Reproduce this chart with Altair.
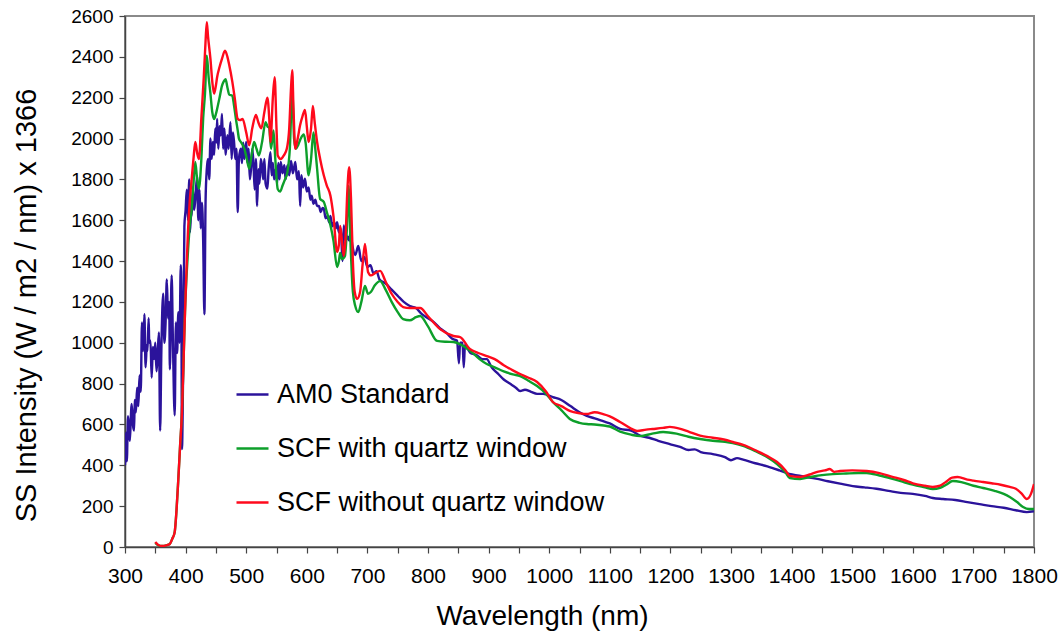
import altair as alt
import pandas as pd

# ---------------- data ----------------
am0_nm = [300,302,303,305,307,308,310,311,313,315,316,318,320,322,324,326,328,330,332,334,336,337,339,340,342,344,346,348,350,352,354,356,358,360,363,365,367,369,371,373,374,377,379,382,384,386,388,390,392,393,394,396,398,400,402,404,406,407,409,410,412,414,416,419,421,423,425,427,429,431,433,435,437,439,441,443,445,447,449,451,452,454,456,458,460,462,464,466,469,471,474,476,478,480,482,484,486,488,491,493,495,497,500,502,504,506,508,510,512,514,516,518,520,522,524,526,528,530,532,535,537,540,542,544,546,549,551,553,555,557,560,563,565,568,571,574,577,581,584,587,589,591,594,597,600,603,606,608,611,614,617,620,623,626,628,631,634,637,639,642,645,648,650,653,656,659,661,664,667,670,672,675,680,685,690,695,700,705,710,715,720,730,740,750,760,770,780,790,800,810,820,830,840,848,851,853,857,859,861,870,880,890,897,905,915,925,935,945,952,960,970,980,990,1006,1020,1035,1050,1062,1075,1090,1100,1117,1135,1150,1165,1180,1199,1216,1230,1240,1250,1270,1290,1300,1310,1320,1340,1360,1380,1392,1420,1440,1460,1480,1501,1520,1540,1560,1580,1600,1620,1633,1650,1670,1690,1710,1730,1750,1770,1788,1800]
am0_val = [400,560,420,640,560,520,660,700,600,570,720,660,780,690,840,760,1100,960,1140,880,990,960,1120,1000,1010,830,980,920,1000,860,950,1050,570,960,1240,1000,1100,1310,1120,1200,870,1330,1020,645,1100,950,1150,1000,1380,1250,480,900,1570,1650,1750,1600,1800,1540,1620,1620,1760,1650,1700,1817,1600,1750,1560,1686,1500,1140,1700,1850,1900,1800,2000,1900,1983,1920,2050,1980,2096,1950,2060,2016,2120,1950,2050,1920,2016,1950,2080,1900,2030,1983,1900,1950,1640,1900,1950,1880,1980,1900,1983,1880,1950,1800,1852,1950,1880,1750,1900,1670,1850,1780,1900,1868,1800,1900,1780,1755,1850,1933,1820,1880,1800,1852,1780,1880,1800,1885,1830,1870,1800,1868,1820,1890,1830,1885,1800,1840,1670,1820,1760,1803,1740,1760,1700,1720,1680,1700,1670,1670,1640,1660,1657,1610,1620,1590,1621,1570,1590,1560,1590,1540,1560,1400,1575,1500,1520,1500,1540,1480,1430,1474,1400,1420,1370,1380,1340,1350,1310,1290,1260,1230,1200,1180,1170,1140,1120,1100,1070,1050,1020,1010,900,1000,1000,880,990,950,940,920,920,880,850,820,800,780,764,770,760,750,750,734,720,690,660,642,630,615,605,578,570,545,535,520,504,490,475,478,465,455,440,425,435,428,410,395,375,362,345,335,322,310,298,292,285,275,265,260,250,240,235,230,220,210,200,192,180,171,175]

quartz_nm = [350,355,361,368,374,378,382,385,388,391,394,397,399,402,404,407,410,413,416,419,422,426,429,432,435,438,441,444,447,450,452,456,460,463,466,469,472,477,480,483,486,488,492,497,501,505,509,513,517,521,526,532,535,538,541,545,548,552,556,560,564,568,572,576,579,582,586,590,595,598,603,607,611,614,617,622,628,633,639,644,650,653,655,658,663,666,669,672,676,680,685,690,696,701,706,712,721,730,740,750,759,770,780,787,800,815,830,842,855,870,885,897,910,925,940,952,965,980,995,1006,1020,1034,1050,1062,1075,1090,1100,1117,1135,1150,1170,1188,1210,1230,1249,1270,1290,1303,1320,1343,1360,1376,1390,1397,1414,1430,1450,1468,1490,1510,1524,1545,1565,1585,1600,1620,1633,1645,1655,1666,1680,1700,1716,1735,1750,1760,1772,1782,1792,1800]
quartz_val = [20,8,5,8,15,40,73,180,333,500,660,950,1150,1350,1450,1580,1655,1780,1885,1800,1755,1900,2100,2220,2405,2300,2220,2130,2096,2120,2145,2200,2258,2280,2290,2250,2215,2210,2160,2096,2040,2000,1980,1950,1900,1852,1920,1983,1950,1917,1980,2080,2060,2050,1950,2040,1900,1753,1740,1770,1800,1836,1950,2240,2000,1950,1970,2000,2020,1980,1820,1900,2030,1950,1852,1704,1690,1640,1575,1500,1371,1400,1440,1410,1425,1550,1768,1500,1250,1180,1150,1200,1278,1240,1250,1280,1302,1260,1200,1150,1116,1110,1125,1131,1080,1009,1005,1004,990,960,920,896,880,860,845,837,815,788,750,710,670,627,608,602,600,595,590,565,550,543,555,563,555,540,529,520,515,509,495,465,440,406,365,338,333,342,352,357,360,362,362,350,335,318,305,292,284,290,305,323,318,300,289,275,260,245,220,196,186,186]

noquartz_nm = [350,355,361,368,374,378,382,385,388,391,394,397,399,402,404,407,410,413,416,419,422,426,430,433,435,437,441,444,447,450,452,456,460,465,469,472,477,481,486,490,494,500,505,510,516,520,525,530,535,538,540,544,547,550,552,557,562,567,571,574,576,578,581,585,589,593,597,600,603,607,610,613,617,622,628,633,639,644,650,653,655,658,661,664,667,670,673,676,679,683,688,692,696,701,706,712,721,730,740,750,759,770,787,800,820,842,853,869,883,897,910,925,940,952,965,980,995,1006,1020,1035,1050,1062,1075,1089,1100,1117,1135,1145,1160,1171,1188,1199,1215,1230,1249,1270,1290,1303,1320,1343,1360,1376,1390,1397,1414,1430,1441,1455,1463,1470,1480,1500,1524,1545,1565,1585,1600,1620,1633,1645,1655,1665,1674,1690,1700,1716,1730,1745,1760,1770,1780,1788,1795,1800]
noquartz_val = [25,10,5,8,15,40,73,180,333,500,660,950,1150,1400,1550,1700,1800,1900,1983,1930,1900,2100,2300,2480,2570,2500,2390,2280,2220,2260,2300,2350,2390,2430,2400,2360,2280,2200,2096,2090,2096,2030,1967,2050,2115,2080,2050,2130,2200,2100,1983,2200,2300,2050,1917,1900,1917,1950,2050,2250,2335,2150,1950,2000,2066,2110,2140,2060,1983,2050,2160,2080,1983,1900,1820,1770,1720,1620,1445,1480,1572,1500,1425,1520,1750,1860,1700,1400,1250,1215,1250,1380,1484,1347,1330,1340,1352,1300,1240,1200,1175,1170,1170,1130,1067,1033,1028,970,950,935,920,890,865,847,830,808,760,710,690,665,655,651,660,651,640,612,580,568,575,578,583,588,580,565,545,535,525,514,500,470,445,416,375,348,343,355,367,375,382,368,372,375,372,362,345,328,312,300,294,300,320,340,343,330,325,318,312,305,294,285,260,235,260,308]

series_names = ["AM0 Standard", "SCF with quartz window", "SCF without quartz window"]
series_colors = ["#2b139b", "#0d9f2a", "#ff0a1c"]

x_ticks = list(range(300, 1801, 50))
y_ticks = list(range(0, 2601, 200))

frames = []
for i, (nm, val) in enumerate([(am0_nm, am0_val), (quartz_nm, quartz_val), (noquartz_nm, noquartz_val)]):
    frames.append(pd.DataFrame({"nm": nm, "val": val, "series": series_names[i], "order": i}))
df = pd.concat(frames, ignore_index=True)

FONT = "Liberation Sans"

chart = alt.Chart(df).mark_line(strokeWidth=2.4, clip=True, interpolate="monotone").encode(
    x=alt.X("nm:Q",
            scale=alt.Scale(domain=[300, 1800], nice=False, zero=False),
            axis=alt.Axis(title="Wavelength (nm)", values=x_ticks, format="d",
                          labelExpr="datum.value % 100 == 0 ? datum.label : ''",
                          grid=False, tickSize=6, labelPadding=12, titlePadding=16,
                          titleX=417,
                          labelFontSize=21, titleFontSize=28,
                          labelFlush=False, labelOverlap=False)),
    y=alt.Y("val:Q",
            scale=alt.Scale(domain=[0, 2600], nice=False),
            axis=alt.Axis(title="SS Intensity (W / m2 / nm) x 1366", values=y_ticks, format="d",
                          grid=False, tickSize=6, labelPadding=6, titlePadding=29,
                          titleY=289,
                          labelFontSize=19, titleFontSize=29)),
    color=alt.Color("series:N",
                    scale=alt.Scale(domain=series_names, range=series_colors),
                    legend=alt.Legend(title=None, orient="none", legendX=110, legendY=361,
                                      symbolType="stroke", symbolSize=1024, symbolStrokeWidth=2.5,
                                      labelFontSize=27, labelFont=FONT, labelColor="#000",
                                      rowPadding=23, labelOffset=7, labelLimit=600)),
    detail="series:N",
    order="order:Q",
).properties(
    width=909, height=531,
    autosize=alt.AutoSizeParams(type="none"),
    padding={"left": 125, "top": 16, "right": 30, "bottom": 90},
    background="white",
).configure_axis(
    labelFont=FONT, titleFont=FONT,
    titleFontWeight="normal", labelColor="#000", titleColor="#000",
    domainColor="#444", domainWidth=1.5, tickColor="#444", tickWidth=1.2,
).configure_view(
    stroke="#8a8a8a", strokeWidth=2,
)

chart.save("out.html", embed_options={"renderer": "svg", "actions": False})
